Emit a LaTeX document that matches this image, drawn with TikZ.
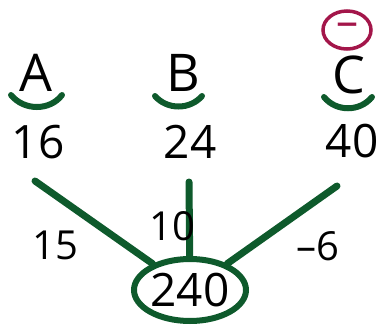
\documentclass[tikz,border=0pt]{standalone}
\usepackage{fontspec}
\setmainfont{Open Sans}
\usetikzlibrary{shapes.geometric}
\definecolor{gr}{HTML}{0E5A2C}
\definecolor{rd}{HTML}{A3164A}
\begin{document}
\begin{tikzpicture}[x=1pt,y=-1pt,
  letter/.style={font=\fontsize{52}{52}\selectfont, inner sep=0},
  num/.style={font=\fontsize{46}{46}\selectfont, inner sep=0},
  edgelbl/.style={font=\fontsize{40}{40}\selectfont, inner sep=0},
  smile/.style={draw=gr, line width=6, line cap=round},
  conn/.style={draw=gr, line width=7, line cap=round},
  total/.style={ellipse, draw=gr, line width=6, minimum width=112, minimum height=62, inner sep=0, font=\fontsize{46}{46}\selectfont},
  sign/.style={ellipse, draw=rd, line width=3.5, minimum width=48, minimum height=38, inner sep=0, text=rd, font=\fontsize{44}{44}\selectfont}]
\useasboundingbox (0,0) rectangle (381,325);
\node[sign] (neg) at (347,30) {};
\node[text=rd, font=\fontsize{44}{44}\selectfont, inner sep=0] (negsym) at (neg.center) {–};
\node[letter] (A) at (36,73) {A};
\node[letter] (B) at (183,73) {B};
\node[letter] (C) at (349,75) {C};
\draw[smile] (11,95) .. controls (24,111) and (50,111) .. (62,95);
\draw[smile] (155,96) .. controls (167,110) and (190,110) .. (202,96);
\draw[smile] (324,97) .. controls (336,112) and (360,112) .. (372,97);
\node[num] (nA) at (38,142) {16};
\node[num] (nB) at (190,142) {24};
\node[num] (nC) at (352,141) {40};
\node[total] (T) at (190,290) {240};
\coordinate (eA) at (35,181);
\coordinate (eB) at (189,182);
\coordinate (eC) at (337,186);
\draw[conn] (eA) -- (T);
\draw[conn] (eB) -- (T);
\draw[conn] (eC) -- (T);
\node[edgelbl] (lA) at (55,245) {15};
\node[edgelbl] (lB) at (172,226) {10};
\node[edgelbl] (lC) at (318,246) {–6};
\end{tikzpicture}
\end{document}
